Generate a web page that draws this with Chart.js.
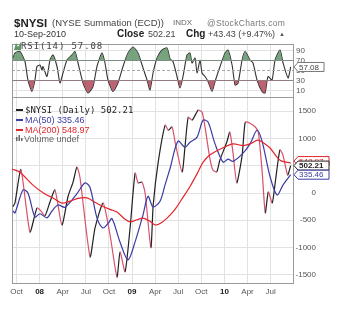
<!DOCTYPE html>
<html>
<head>
<meta charset="utf-8">
<script src="https://cdn.jsdelivr.net/npm/chart.js@4.4.0/dist/chart.umd.min.js"></script>
<style>
  html, body { margin: 0; padding: 0; background: #fff; }
  #wrap { position: relative; width: 342px; height: 312px; overflow: hidden; font-family: "Liberation Sans", Arial, sans-serif; color: #333; }
  #c { position: absolute; left: 0; top: 0; }
  .t { position: absolute; white-space: nowrap; line-height: 12px; }
  .mono { font-family: "DejaVu Sans Mono", monospace; }
  .narrow { font-family: "Liberation Sans Narrow", "Liberation Sans", Arial, sans-serif; }
</style>
</head>
<body>
<div id="wrap">
  <canvas id="c" width="342" height="312"></canvas>

  <div class="t" style="left:14px;top:17px;font-size:11.5px;font-weight:bold;color:#222;">$NYSI</div>
  <div class="t" style="left:52px;top:17px;font-size:9.5px;color:#444;">(NYSE Summation (ECD))</div>
  <div class="t" style="left:173px;top:17px;font-size:8px;color:#666;">INDX</div>
  <div class="t" style="left:207px;top:17px;font-size:8.5px;color:#777;letter-spacing:0.3px;">@StockCharts.com</div>

  <div class="t" style="left:14px;top:28px;font-size:9px;color:#333;">10-Sep-2010</div>
  <div class="t" style="left:117px;top:28px;font-size:10px;font-weight:bold;color:#222;">Close</div>
  <div class="t" style="left:148px;top:28px;font-size:9px;color:#444;">502.21</div>
  <div class="t" style="left:186px;top:28px;font-size:10px;font-weight:bold;color:#222;">Chg</div>
  <div class="t" style="left:208px;top:28px;font-size:9px;color:#444;">+43.43 (+9.47%)</div>
  <div class="t" style="left:279px;top:28px;font-size:6px;color:#555;">▲</div>

  <svg style="position:absolute;left:14px;top:42px;" width="7" height="8">
    <polygon points="0,8 2,1 4,5 7,0 7,8" fill="#5f9467"/>
  </svg>
  <div class="t mono" style="left:21px;top:40px;font-size:9px;letter-spacing:0.9px;color:#444;">RSI(14) 57.08</div>

  <div style="position:absolute;left:16px;top:109px;width:7px;height:2px;background:#222;"></div>
  <div class="t mono" style="left:25px;top:104px;font-size:9px;color:#222;">$NYSI (Daily) 502.21</div>
  <div style="position:absolute;left:16px;top:119px;width:7px;height:2px;background:#3b3ba3;"></div>
  <div class="t narrow" style="left:25px;top:114px;font-size:9px;color:#3b3ba3;">MA(50) 335.46</div>
  <div style="position:absolute;left:16px;top:129px;width:7px;height:2px;background:#e3262c;"></div>
  <div class="t narrow" style="left:25px;top:124px;font-size:9px;color:#e3262c;">MA(200) 548.97</div>
  <svg style="position:absolute;left:16px;top:135px;" width="7" height="6">
    <rect x="0" y="2" width="1.5" height="4" fill="#666"/><rect x="2.5" y="0" width="1.5" height="6" fill="#666"/><rect x="5" y="3" width="1.5" height="3" fill="#666"/>
  </svg>
  <div class="t narrow" style="left:24px;top:133px;font-size:9px;color:#666;">Volume undef</div>
</div>

<script>
// x positions are months counted from Oct 2007
const xTickMonths = [0, 3, 6, 9, 12, 15, 18, 21, 24, 27, 30, 33];
const xTickLabels = ['Oct', '08', 'Apr', 'Jul', 'Oct', '09', 'Apr', 'Jul', 'Oct', '10', 'Apr', 'Jul'];
const yearLabels = ['08', '09', '10'];
const priceTicks = [-1500, -1000, -500, 0, 500, 1000, 1500];
const rsiTicks = [10, 30, 50, 70, 90];

const nysiMonths = [-0.45, -0.19, 0.58, 1.75, 2.66, 3.18, 3.7, 4.35, 5.0, 5.9, 6.7, 7.35, 7.85, 8.25, 9.55, 10.2,
  11.25, 12.15, 13.05, 13.45, 14.1, 14.75, 15.4, 15.8, 16.3, 16.7, 17.45, 17.75, 18.4, 19.3, 19.7, 20.2, 20.6,
  21.5, 21.9, 22.3, 22.8, 23.6, 24.1, 24.5, 25.1, 25.5, 26.0, 26.4, 27.3, 27.7, 28.1, 28.6, 29.3, 29.7, 30.3,
  31.0, 31.4, 31.9, 32.3, 32.7, 33.2, 33.6, 34.2, 34.6, 35.2, 35.6];
const nysiValues = [-250, -180, 430, -715, -275, -330, -420, -165, 55, -585, -60, 200, 475, 280, -1170, -640,
  -185, -770, -1540, -1080, -1445, -640, 365, 185, 200, 0, -1000, -220, 565, 1245, 1150, 1210, 930,
  385, 880, 1390, 1335, 1520, 1480, 1190, 640, 420, 385, 600, 930, 1115, 750, 185, 695, 1300, 1280,
  1210, 1115, 385, -365, 20, -185, 200, 790, 695, 330, 502.21];

const ma50Months = [-0.45, -0.19, 0.84, 1.49, 2.4, 3.05, 3.96, 4.61, 5.39, 6.3, 7.86, 8.9, 9.55, 10.45, 11.23,
  11.88, 12.4, 13.44, 14.48, 15.39, 16.43, 17.08, 17.73, 18.64, 19.29, 19.94, 20.97, 21.88, 22.53, 23.44,
  24.22, 24.87, 25.78, 26.82, 27.47, 28.12, 29.42, 30.32, 31.23, 31.88, 32.92, 33.83, 34.61, 35.6];
const ma50Values = [-330, -365, 55, 0, -440, -380, -455, -330, -220, -260, -10, 185, 100, -455, -640,
  -560, -470, -900, -1225, -900, -400, -60, -255, -150, 150, 450, 950, 840, 930, 1025,
  1335, 1300, 900, 565, 620, 580, 730, 900, 1150, 950, 300, -35, 150, 335.46];

const ma200Months = [-0.58, 0.45, 2.14, 3.7, 4.74, 5.91, 6.95, 7.99, 9.16, 10.19, 10.84, 12.14, 13.05, 14.09,
  14.74, 15.65, 16.43, 17.34, 17.99, 18.64, 19.55, 20.58, 21.62, 22.53, 23.44, 24.22, 25.13, 26.82, 28.12,
  29.42, 30.32, 31.36, 32.27, 32.92, 34.22, 35.6];
const ma200Values = [440, 380, 145, -20, -90, -185, -150, -100, -90, -170, -220, -300, -350, -480,
  -530, -490, -460, -520, -585, -560, -460, -300, -80, 120, 350, 560, 700, 830, 900,
  870, 900, 970, 900, 825, 600, 548.97];

const rsiMonths = [-0.45, -0.19, 0.45, 1.1, 1.49, 2.01, 2.4, 2.66, 3.05, 3.31, 3.44, 3.96, 4.35, 4.74, 5.26,
  5.65, 6.04, 6.56, 7.21, 7.6, 7.99, 8.64, 9.29, 9.94, 10.45, 11.1, 11.49, 11.88, 12.53, 13.18, 13.83,
  14.48, 15.13, 15.78, 16.43, 16.95, 17.34, 17.73, 18.25, 18.9, 19.55, 19.94, 20.32, 20.84, 21.23, 21.62,
  22.14, 22.53, 22.79, 23.18, 23.44, 23.83, 24.09, 24.48, 24.87, 25.39, 25.78, 26.43, 27.08, 27.47, 27.99,
  28.38, 28.77, 29.29, 29.68, 30.32, 30.71, 31.23, 31.88, 32.27, 32.66, 33.18, 33.57, 34.22, 34.61, 35.26, 35.6];
const rsiValues = [75, 85, 88, 68, 31, 8, 31, 58, 61, 51, 58, 38, 71, 81, 58,
  25, 45, 71, 81, 88, 65, 25, 5, 18, 58, 85, 65, 31, 8, 25, 58,
  85, 97, 85, 55, 31, 11, 45, 75, 91, 95, 73, 68, 38, 15, 38,
  81, 85, 65, 75, 45, 71, 45, 38, 28, 8, 28, 58, 85, 91, 61,
  21, 25, 71, 88, 71, 65, 31, 8, 5, 38, 31, 71, 91, 65, 35, 57.08];

const rsiLevels = [70, 30];
const rsiMid = 50;

const X_MIN = -0.58, X_MAX = 35.9;

function pts(ms, vs) { return ms.map((m, i) => ({ x: m, y: vs[i] })); }
function hline(v) { return [{ x: X_MIN, y: v }, { x: X_MAX, y: v }]; }

const rsiData = pts(rsiMonths, rsiValues);
const fallColor = '#d9506b';
const riseColor = '#222222';

const panels = {
  id: 'panels',
  beforeDatasetsDraw(chart) {
    const c = chart.ctx, a = chart.chartArea;
    c.save();
    c.strokeStyle = '#9a9a9a';
    c.lineWidth = 1;
    ['yr', 'y'].forEach(id => {
      const s = chart.scales[id];
      c.strokeRect(Math.round(a.left) + 0.5, Math.round(s.top) + 0.5, Math.round(a.right - a.left), Math.round(s.bottom - s.top));
    });
    c.restore();
  },
  afterDraw(chart) {
    const c = chart.ctx, a = chart.chartArea;
    const y = chart.scales.y, yr = chart.scales.yr;
    function tag(yy, text, border, color, bold, w) {
      const x = a.right + 1, h = 9;
      c.save();
      c.fillStyle = '#fff';
      c.strokeStyle = border;
      c.lineWidth = 1;
      c.beginPath();
      c.moveTo(x, yy);
      c.lineTo(x + 4, yy - h / 2);
      c.lineTo(x + w, yy - h / 2);
      c.lineTo(x + w, yy + h / 2);
      c.lineTo(x + 4, yy + h / 2);
      c.closePath();
      c.fill();
      c.stroke();
      c.fillStyle = color;
      c.font = (bold ? 'bold ' : '') + '8px "Liberation Sans", Arial';
      c.textBaseline = 'middle';
      c.fillText(text, x + 5, yy + 0.5);
      c.restore();
    }
    const last = arr => arr[arr.length - 1];
    tag(yr.getPixelForValue(last(rsiValues)), last(rsiValues).toFixed(2), '#777', '#444', false, 30);
    tag(y.getPixelForValue(last(ma200Values)) - 2, last(ma200Values).toFixed(2), '#e3262c', '#e3262c', false, 35);
    tag(y.getPixelForValue(last(nysiValues)), last(nysiValues).toFixed(2), '#222', '#222', true, 35);
    tag(y.getPixelForValue(last(ma50Values)), last(ma50Values).toFixed(2), '#3b3ba3', '#3b3ba3', false, 35);
  }
};

const ctx = document.getElementById('c').getContext('2d');
const chart = new Chart(ctx, {
  type: 'line',
  data: {
    datasets: [
      {
        data: rsiData, yAxisID: 'yr', borderColor: 'rgba(0,0,0,0)', borderWidth: 0,
        fill: { target: { value: rsiLevels[0] }, above: 'rgba(95,148,103,0.85)', below: 'rgba(0,0,0,0)' }
      },
      {
        data: rsiData, yAxisID: 'yr', borderColor: 'rgba(0,0,0,0)', borderWidth: 0,
        fill: { target: { value: rsiLevels[1] }, above: 'rgba(0,0,0,0)', below: 'rgba(176,72,90,0.85)' }
      },
      { data: hline(rsiLevels[0]), yAxisID: 'yr', borderColor: '#8a8a8a', borderWidth: 1, fill: false },
      { data: hline(rsiLevels[1]), yAxisID: 'yr', borderColor: '#8a8a8a', borderWidth: 1, fill: false },
      { data: hline(rsiMid), yAxisID: 'yr', borderColor: '#a8a8a8', borderWidth: 1, borderDash: [3, 2], fill: false },
      { data: rsiData, yAxisID: 'yr', borderColor: '#333', borderWidth: 1.1, fill: false, tension: 0.2 },

      { label: 'MA(200)', data: pts(ma200Months, ma200Values), yAxisID: 'y', borderColor: '#e3262c', borderWidth: 1.2, fill: false, tension: 0.3 },
      { label: 'MA(50)', data: pts(ma50Months, ma50Values), yAxisID: 'y', borderColor: '#3b3ba3', borderWidth: 1.2, fill: false, tension: 0.3 },
      {
        label: '$NYSI', data: pts(nysiMonths, nysiValues), yAxisID: 'y', borderWidth: 1.2, fill: false, tension: 0.2,
        borderColor: riseColor,
        segment: { borderColor: s => s.p1.parsed.y < s.p0.parsed.y ? fallColor : riseColor }
      }
    ]
  },
  options: {
    responsive: false,
    animation: false,
    layout: { padding: { top: 44, left: 12, right: 26, bottom: 14 } },
    plugins: { legend: { display: false }, tooltip: { enabled: false } },
    elements: { point: { radius: 0 }, line: { borderJoinStyle: 'round' } },
    scales: {
      x: {
        type: 'linear', min: X_MIN, max: X_MAX,
        afterBuildTicks: s => { s.ticks = xTickMonths.map(v => ({ value: v })); },
        afterFit: s => { s.height = 15; },
        grid: { color: '#e2e2e2', drawTicks: false },
        border: { display: false },
        ticks: {
          padding: 4, maxRotation: 0, autoSkip: false,
          callback: v => xTickLabels[xTickMonths.indexOf(v)],
          font: c => yearLabels.includes(xTickLabels[c.index]) ? { family: 'Liberation Sans', size: 8, weight: 'bold' } : { family: 'Liberation Sans', size: 8 },
          color: c => yearLabels.includes(xTickLabels[c.index]) ? '#222' : '#555'
        }
      },
      yr: {
        position: 'right', stack: 'panes', stackWeight: 53, min: -3, max: 103,
        afterBuildTicks: s => { s.ticks = rsiTicks.map(v => ({ value: v })); },
        afterFit: s => { s.width = 23; },
        grid: { color: c => (c.tick && (c.tick.value === 10 || c.tick.value === 90)) ? '#e2e2e2' : 'rgba(0,0,0,0)', drawTicks: false },
        border: { display: false },
        ticks: { padding: 3, autoSkip: false, callback: v => String(v), font: { family: 'Liberation Sans', size: 8 }, color: '#555' }
      },
      y: {
        position: 'right', stack: 'panes', stackWeight: 186, min: -1650, max: 1760,
        afterBuildTicks: s => { s.ticks = priceTicks.map(v => ({ value: v })); },
        afterFit: s => { s.width = 23; },
        grid: { color: '#e2e2e2', drawTicks: false },
        border: { display: false },
        ticks: { padding: 4, autoSkip: false, crossAlign: 'far', callback: v => String(v), font: { family: 'Liberation Sans', size: 8 }, color: '#555' }
      }
    }
  },
  plugins: [panels]
});
</script>
</body>
</html>
